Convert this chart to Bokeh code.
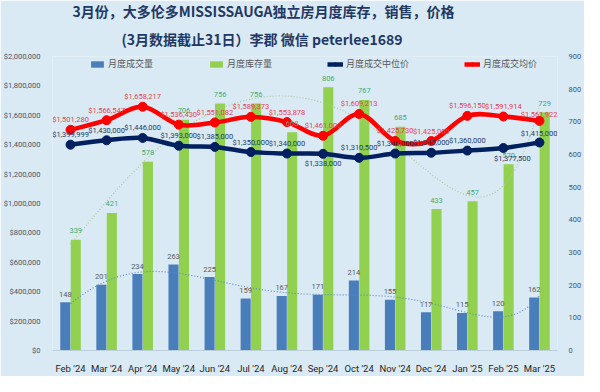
import numpy as np
from bokeh.plotting import figure
from bokeh.models import (Range1d, LinearAxis, NumeralTickFormatter, FixedTicker,
                          SingleIntervalTicker, ColumnDataSource, LabelSet, Legend,
                          LegendItem, Title)
from bokeh.embed import file_html
from bokeh.resources import INLINE
from bokeh.core.properties import value

# ---------------- data ----------------
months = ["Feb '24", "Mar '24", "Apr '24", "May '24", "Jun '24", "Jul '24", "Aug '24",
          "Sep '24", "Oct '24", "Nov '24", "Dec '24", "Jan '25", "Feb '25", "Mar '25"]
sales = [148, 201, 234, 263, 225, 159, 167, 171, 214, 155, 117, 115, 120, 162]
inventory = [339, 421, 578, 706, 756, 756, 668, 806, 767, 685, 433, 457, 570, 729]
median_price = [1399999, 1430000, 1446000, 1393000, 1385000, 1350000, 1340000,
                1338000, 1310500, 1340000, 1345000, 1360000, 1377500, 1415000]
avg_price = [1501280, 1566547, 1658217, 1536430, 1551082, 1589373, 1553878,
             1461000, 1609213, 1425730, 1425000, 1596150, 1591914, 1561922]

title1 = "3月份，大多伦多MISSISSAUGA独立房月度库存，销售，价格"
title2 = "(3月数据截止31日）李郡 微信 peterlee1689"
legend_labels = ["月度成交量", "月度库存量", "月度成交中位价", "月度成交均价"]

# ---------------- styles ----------------
BG = "#DAEAF4"
BLUE = "#4A7EBB"
GREEN = "#92D050"
NAVY = "#002060"
RED = "#FF0000"
CJK = "Noto Sans CJK SC"
NUM = "Roboto"

n = len(months)
idx = list(range(n))
xb = [i - 0.145 for i in idx]
xg = [i + 0.145 for i in idx]

p = figure(width=584, height=376, output_backend="svg", toolbar_location=None,
           x_range=Range1d(-0.5, n - 0.5), y_range=Range1d(0, 2000000),
           min_border_left=46, min_border_right=16, min_border_top=48,
           min_border_bottom=20)
p.extra_y_ranges = {"right": Range1d(0, 900)}
p.background_fill_color = BG
p.border_fill_color = BG
p.outline_line_color = None
p.xgrid.visible = False
p.ygrid.visible = False

# titles (p.title is the outer one, the added one sits next to the plot)
p.title.text = title1
p.title.align = "left"
p.title.offset = 20
p.title.text_font = CJK
p.title.text_font_size = "14px"
p.title.text_font_style = "bold"
p.title.text_color = "#1F3864"
p.title.standoff = -4
t2 = Title(text=title2, align="left", offset=69, text_font=CJK,
           text_font_size="14px", text_font_style="bold", text_color="#1F3864",
           standoff=16)
p.add_layout(t2, "above")

# axes
yl = p.yaxis[0]
yl.ticker = SingleIntervalTicker(interval=200000)
yl.formatter = NumeralTickFormatter(format="$0,0")
yr = LinearAxis(y_range_name="right", ticker=SingleIntervalTicker(interval=100))
p.add_layout(yr, "right")
for ax in (yl, yr):
    ax.axis_line_color = None
    ax.major_tick_line_color = None
    ax.minor_tick_line_color = None
    ax.major_label_text_font = NUM
    ax.major_label_text_font_size = "7.5px"
    ax.major_label_text_color = "#44546A"
    ax.major_label_standoff = 6
yr.major_label_standoff = 5
xa = p.xaxis[0]
xa.ticker = FixedTicker(ticks=idx)
xa.major_label_overrides = {i: m for i, m in zip(idx, months)}
xa.axis_line_color = "#BCCFDD"
xa.major_tick_line_color = None
xa.minor_tick_line_color = None
xa.major_label_text_font = NUM
xa.major_label_text_font_size = "9.5px"
xa.major_label_text_color = "#262626"
xa.major_label_standoff = 6

# bars
r_sales = p.vbar(x=xb, top=sales, width=0.28, y_range_name="right",
                 fill_color=BLUE, line_color=None)
r_inv = p.vbar(x=xg, top=inventory, width=0.28, y_range_name="right",
               fill_color=GREEN, line_color=None)

# polynomial trendlines (order 6), like the spreadsheet's trendlines
xx = np.linspace(0, n - 1, 300)
inv_fit = np.polyval(np.polyfit(idx, inventory, 6), xx)
sal_fit = np.polyval(np.polyfit(idx, sales, 6), xx)
p.line(xx, inv_fit, y_range_name="right", line_color="#AFC89A", line_width=1.2,
       line_dash="1 2")
p.line(xx, sal_fit, y_range_name="right", line_color="#5A8AC6", line_width=1.2,
       line_dash="1 2")


def smooth(xs, ys, t=1.0 / 6.0):
    m = len(xs)
    out = {k: [] for k in ("x0", "y0", "x1", "y1", "cx0", "cy0", "cx1", "cy1")}
    for i in range(m - 1):
        pm = (xs[i - 1], ys[i - 1]) if i > 0 else (xs[i], ys[i])
        pn = (xs[i + 2], ys[i + 2]) if i + 2 < m else (xs[i + 1], ys[i + 1])
        out["x0"].append(xs[i]); out["y0"].append(ys[i])
        out["x1"].append(xs[i + 1]); out["y1"].append(ys[i + 1])
        out["cx0"].append(xs[i] + (xs[i + 1] - pm[0]) * t)
        out["cy0"].append(ys[i] + (ys[i + 1] - pm[1]) * t)
        out["cx1"].append(xs[i + 1] - (pn[0] - xs[i]) * t)
        out["cy1"].append(ys[i + 1] - (pn[1] - ys[i]) * t)
    return ColumnDataSource(out)


r_med_l = p.bezier(x0="x0", y0="y0", x1="x1", y1="y1", cx0="cx0", cy0="cy0",
                   cx1="cx1", cy1="cy1", source=smooth(idx, median_price),
                   line_color=NAVY, line_width=4.5)
r_med_m = p.scatter(idx, median_price, size=9, fill_color=NAVY, line_color=NAVY)
r_avg_l = p.bezier(x0="x0", y0="y0", x1="x1", y1="y1", cx0="cx0", cy0="cy0",
                   cx1="cx1", cy1="cy1", source=smooth(idx, avg_price),
                   line_color=RED, line_width=4.5)
r_avg_m = p.scatter(idx, avg_price, size=9, fill_color=RED, line_color=RED)

# ---------------- data labels ----------------
def add_labels(xs, ys, texts, color, rng=None, dx=None, dy=None, align="center"):
    src = ColumnDataSource(dict(x=xs, y=ys, t=texts,
                                dx=dx if dx is not None else [0] * len(xs),
                                dy=dy if dy is not None else [0] * len(xs)))
    kw = dict(y_range_name=rng) if rng else {}
    p.add_layout(LabelSet(x="x", y="y", text="t", source=src, x_offset="dx",
                          y_offset="dy", text_align=align, text_baseline="middle",
                          text_font=value(NUM), text_font_size="7.5px",
                          text_color=color, **kw))


add_labels(xb, sales, [str(v) for v in sales], "#595959", "right",
           dy=[8] * n)
add_labels(xg, inventory, [str(v) for v in inventory], "#3DAA74", "right",
           dy=[9] * n)

fmt = lambda v: "${:,}".format(v)
# median labels
above = [i for i in idx if i not in (7, 12, 13)]
add_labels(above, [median_price[i] for i in above],
           [fmt(median_price[i]) for i in above], "#1F3864", dy=[10] * len(above))
below = [7, 12]
add_labels(below, [median_price[i] for i in below],
           [fmt(median_price[i]) for i in below], "#1F3864",
           dx=[0, 9], dy=[-10, -10])
add_labels([13], [median_price[13]], [fmt(median_price[13])], "#1F3864",
           dx=[18], dy=[9], align="right")
# average labels
above_a = [i for i in idx if i != 13]
add_labels(above_a, [avg_price[i] for i in above_a],
           [fmt(avg_price[i]) for i in above_a], "#E2434B", dy=[10] * len(above_a))
add_labels([13], [avg_price[13]], [fmt(avg_price[13])], "#E2434B",
           dx=[18], dy=[6], align="right")

# ---------------- legend ----------------
legend = Legend(items=[
    LegendItem(label=legend_labels[0], renderers=[r_sales]),
    LegendItem(label=legend_labels[1], renderers=[r_inv]),
    LegendItem(label=legend_labels[2], renderers=[r_med_l, r_med_m]),
    LegendItem(label=legend_labels[3], renderers=[r_avg_l, r_avg_m]),
], orientation="horizontal", location=(37, 280), spacing=55,
    glyph_width=16, glyph_height=8, label_standoff=3, padding=0, margin=0,
    label_text_font=CJK, label_text_font_size="9px", label_text_color="#595959",
    label_height=12, background_fill_alpha=0, border_line_alpha=0)
p.add_layout(legend)

html = file_html(p, INLINE)
html = html.replace("<body>", '<body style="background:%s">' % BG, 1)
open("out.html", "w").write(html)
